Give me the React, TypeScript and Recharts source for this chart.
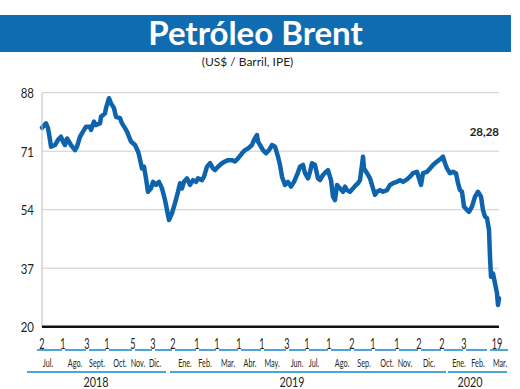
import React from "react";
import { LineChart, Line, XAxis, YAxis, CartesianGrid } from "recharts";

// Trading-session index since 2 Jul 2018 and Brent price (US$/barrel)
const sessions = [0,4,6,8,9,13,16,19,21,23,25,28,29,33,35,38,41,44,48,49,52,54,58,59,63,64,67,69,72,74,78,80,83,85,89,93,96,97,100,102,104,106,109,111,114,117,120,123,125,127,130,133,136,138,140,142,145,148,151,154,156,160,162,165,168,171,173,176,180,183,186,190,193,196,200,203,206,210,212,215,216,219,221,224,227,230,233,236,238,240,243,246,249,252,255,258,261,263,266,268,270,273,276,278,281,284,286,289,291,293,295,298,301,303,305,308,311,314,316,318,320,321,322,325,328,331,333,335,338,341,345,348,351,355,358,361,365,368,371,375,379,381,385,388,391,395,398,401,403,405,408,411,414,416,418,420,422,425,427,430,433,436,439,441,443,445,447,448,449,451,453,455,456,457];
const prices = [77.8,79.1,77.7,74.3,72.3,72.8,74.3,75.2,73.8,72.8,74.7,73.3,72.8,71.3,72.3,75.2,76.7,78.1,78.1,77.2,79.6,78.6,79.1,81.0,82.0,83.5,86.4,84.9,83.5,81.0,80.6,79.1,77.7,76.7,73.8,72.8,70.9,69.9,66.0,66.5,63.1,59.2,60.2,62.1,61.2,62.1,60.2,56.8,53.9,51.0,53.0,55.9,59.2,61.7,60.2,62.1,63.1,61.2,62.6,62.1,63.1,62.6,63.6,66.5,67.5,66.0,65.5,66.5,67.5,68.0,68.4,68.4,68.0,68.9,70.4,71.3,71.8,72.8,74.3,75.7,73.8,72.3,71.3,70.4,71.3,72.8,72.3,69.4,67.0,63.6,61.2,62.1,60.7,62.1,64.1,66.5,67.0,64.6,63.1,65.0,67.5,67.0,63.1,62.6,64.1,65.0,65.5,62.6,57.8,56.8,61.2,60.2,59.2,60.7,59.7,59.2,60.2,61.2,61.7,62.6,67.0,69.4,66.0,64.6,63.1,60.2,58.3,59.2,59.7,59.2,59.7,61.2,61.7,62.1,62.6,62.1,62.8,63.6,64.6,65.0,61.2,64.6,65.0,66.0,67.0,68.0,68.6,69.4,67.5,66.0,64.6,65.0,64.6,61.7,59.7,59.2,54.9,53.9,53.4,54.9,57.8,59.2,57.8,53.9,52.0,51.5,48.1,40.3,34.5,35.5,32.6,29.7,26.3,28.28];

const lastLabel = "28,28";
const yTicks = [20, 37, 54, 71, 88];

// Month-start sessions with day-of-month labels
const monthStarts = [0,21,45,65,91,111,131,155,175,197,220,245,265,287,310,331,355,377,400,422,446,470];
const startDays = ["2","1","3","1","5","3","2","1","1","1","1","3","1","1","2","1","1","2","2","3","",""];
const endSession = 455;
const endDay = "19";

const monthNames = ["Jul.","Ago.","Sept.","Oct.","Nov.","Dic.","Ene.","Feb.","Mar.","Abr.","May.","Jun.","Jul.","Ago.","Sep.","Oct.","Nov.","Dic.","Ene.","Feb.","Mar."];
const monthLabelPos = [6,33,55,78,96,113,143,163,186,208,230,255,272,300,322,345,363,387,417,436,458];

const years = ["2018","2019","2020"];
const yearLabelPos = [54,250,428];
const yearSpans = [[-15,124],[128,404],[406,465]];

const data = sessions.map((s, i) => ({ session: s, price: prices[i] }));

const CHART_W = 520;
const CHART_H = 389;
const Y_AXIS_W = 42;
const RIGHT_M = 21;
const TOP_M = 92.7;
const X_AXIS_H = 62;
const BOTTOM_M = 0.3;
const X_MAX = 457;
const PLOT_BOTTOM = CHART_H - BOTTOM_M - X_AXIS_H;
const PX_PER_SESSION = (CHART_W - Y_AXIS_W - RIGHT_M) / X_MAX;
const sx = (s: number) => Y_AXIS_W + s * PX_PER_SESSION;

const monthSpans = monthNames.map((_, i) => [
  i === 0 ? -5 : monthStarts[i] + 2,
  i === monthNames.length - 1 ? 466 : monthStarts[i + 1] - 1,
]);

type TickInfo = { kind: string; text: string };
const tickInfo = new Map<number, TickInfo>();
monthStarts.forEach((s, i) => {
  if (startDays[i]) tickInfo.set(s, { kind: "day", text: startDays[i] });
});
tickInfo.set(endSession, { kind: "day", text: endDay });
monthLabelPos.forEach((s, i) => tickInfo.set(s, { kind: "month", text: monthNames[i] }));
yearLabelPos.forEach((s, i) => tickInfo.set(s, { kind: "year", text: years[i] }));
const xTicks = Array.from(tickInfo.keys()).sort((p, q) => p - q);

const FONT = "Lato, 'Open Sans', sans-serif";
const TEXT = "#231f20";
const BLUE = "#0e64ac";
const LIGHT = "#4aa6d8";

const BottomTick = (props: any) => {
  const x = Number(props.x);
  const y = Number(props.y);
  const v = Number(props.payload.value);
  const info = tickInfo.get(v);
  if (!info) return <g />;
  let dy = 16, size = 13, scx = 0.7, scy = 1.25;
  if (info.kind === "month") { dy = 36.5; size = 10; scx = 0.72; scy = 1.15; }
  if (info.kind === "year") { dy = 55.5; size = 13.5; scx = 0.8; scy = 1.0; }
  return (
    <text
      transform={`translate(${x},${y + dy}) scale(${scx},${scy})`}
      textAnchor="middle"
      dominantBaseline="central"
      fontFamily={FONT}
      fontSize={size}
      fill={TEXT}
    >
      {info.text}
    </text>
  );
};

const LeftTick = (props: any) => {
  const { x, y, payload } = props;
  return (
    <text
      transform={`translate(${x},${y + 1}) scale(0.88,1)`}
      textAnchor="end"
      dominantBaseline="central"
      fontFamily={FONT}
      fontSize={13}
      fill={TEXT}
    >
      {payload.value}
    </text>
  );
};

const Rule = ({ a, b, top }: { a: number; b: number; top: number }) => (
  <div
    style={{
      position: "absolute",
      left: sx(a),
      top,
      width: (b - a) * PX_PER_SESSION,
      height: 0,
      borderTop: `2px solid ${LIGHT}`,
      pointerEvents: "none",
    }}
  />
);

export default function App() {
  return (
    <div style={{ position: "absolute", left: 0, top: 0, width: CHART_W, height: CHART_H, background: "#fff", fontFamily: FONT }}>
      <div
        style={{
          position: "absolute", left: 0, top: 15, width: 511, height: 37,
          background: "#0f6cb0", color: "#fff", textAlign: "center",
          fontSize: 33, fontWeight: 700, lineHeight: "35px",
        }}
      >
        Petróleo Brent
      </div>
      <div
        style={{
          position: "absolute", left: 0, top: 55, width: 495, textAlign: "center",
          fontSize: 12, lineHeight: "14px", color: TEXT,
        }}
      >
        (US$ / Barril, IPE)
      </div>
      <div
        style={{
          position: "absolute", right: 21, top: 125, fontSize: 11.5, fontWeight: 700,
          lineHeight: "14px", color: TEXT,
        }}
      >
        {lastLabel}
      </div>
      <div style={{ position: "absolute", left: 0, top: 0 }}>
        <LineChart width={CHART_W} height={CHART_H} data={data} margin={{ top: TOP_M, right: RIGHT_M, bottom: BOTTOM_M, left: 0 }}>
          <CartesianGrid horizontal vertical={false} stroke="#cdcdcd" strokeWidth={1} />
          <YAxis
            type="number"
            domain={[20, 88]}
            ticks={yTicks}
            width={Y_AXIS_W}
            tickSize={0}
            tickMargin={8}
            tickLine={false}
            axisLine={{ stroke: "#bdbdbd", strokeWidth: 1 }}
            tick={LeftTick}
            interval={0}
          />
          <XAxis
            type="number"
            dataKey="session"
            domain={[0, X_MAX]}
            ticks={xTicks}
            interval={0}
            height={X_AXIS_H}
            tickSize={0}
            tickMargin={0}
            tickLine={false}
            axisLine={{ stroke: "#111", strokeWidth: 2.5 }}
            tick={BottomTick}
          />
          <Line
            type="linear"
            dataKey="price"
            stroke={BLUE}
            strokeWidth={4.5}
            strokeLinejoin="round"
            strokeLinecap="round"
            dot={false}
            activeDot={false}
            isAnimationActive={false}
          />
        </LineChart>
      </div>
      {monthSpans.map((sp, i) => (
        <Rule key={`m${i}`} a={sp[0]} b={sp[1]} top={PLOT_BOTTOM + 22.5} />
      ))}
      {yearSpans.map((sp, i) => (
        <Rule key={`y${i}`} a={sp[0]} b={sp[1]} top={PLOT_BOTTOM + 44} />
      ))}
    </div>
  );
}
